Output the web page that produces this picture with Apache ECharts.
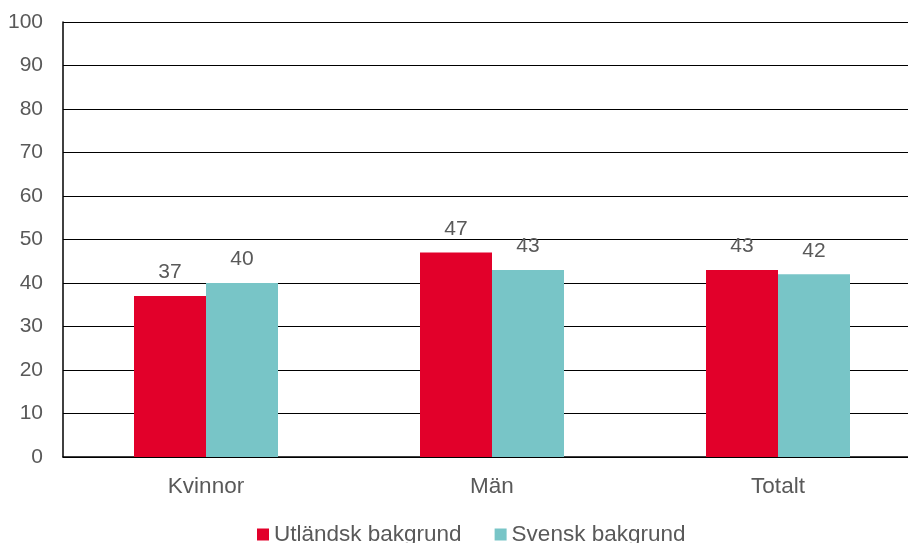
<!DOCTYPE html>
<html lang="sv">
<head>
    <meta charset="UTF-8">
    <title>Utländsk och svensk bakgrund</title>
    <script src="https://cdn.jsdelivr.net/npm/echarts@6/dist/echarts.min.js"></script>
    <style>
        html, body { margin: 0; padding: 0; background: #fff; }
        #main { width: 908px; height: 543px; }
    </style>
</head>
<body>
<div id="main"></div>
<script>
    var categories = ['Kvinnor', 'Män', 'Totalt'];
    var utlandsk = [37, 47, 43];
    var svensk = [40, 43, 42];
    var seriesNames = ['Utländsk bakgrund', 'Svensk bakgrund'];

    var textColor = '#595959';
    var chart = echarts.init(document.getElementById('main'));

    var labelStyle = {
        show: true,
        position: 'top',
        distance: 13,
        color: textColor,
        fontFamily: 'Liberation Sans, Arial, sans-serif',
        fontSize: 21
    };

    var option = {
        animation: false,
        color: ['#E2002A', '#78C5C7'],
        textStyle: { fontFamily: 'Liberation Sans, Arial, sans-serif' },
        grid: {
            left: 63,
            width: 858,
            top: 22,
            bottom: 86,
            outerBoundsMode: 'none'
        },
        legend: {
            bottom: -8,
            left: 252,
            itemWidth: 12,
            itemHeight: 12,
            itemGap: 33,
            itemTextGap: 5,
            icon: 'rect',
            textStyle: { color: textColor, fontSize: 22.5 },
            data: seriesNames
        },
        xAxis: {
            type: 'category',
            data: categories,
            axisLine: { lineStyle: { color: '#000', width: 1.5 } },
            axisTick: { show: false },
            axisLabel: { color: textColor, fontSize: 22.5, margin: 18 }
        },
        yAxis: {
            type: 'value',
            min: 0,
            max: 100,
            interval: 10,
            axisLine: { show: true, lineStyle: { color: '#000', width: 1.5 } },
            axisTick: { show: false },
            axisLabel: { color: textColor, fontSize: 21, margin: 20 },
            splitLine: { lineStyle: { color: '#000', width: 1.2 } }
        },
        series: [{
            name: seriesNames[0],
            type: 'bar',
            barWidth: 72,
            barGap: '0%',
            label: labelStyle,
            data: utlandsk
        }, {
            name: seriesNames[1],
            type: 'bar',
            barWidth: 72,
            barGap: '0%',
            label: labelStyle,
            data: svensk
        }]
    };

    chart.setOption(option);
</script>
</body>
</html>
